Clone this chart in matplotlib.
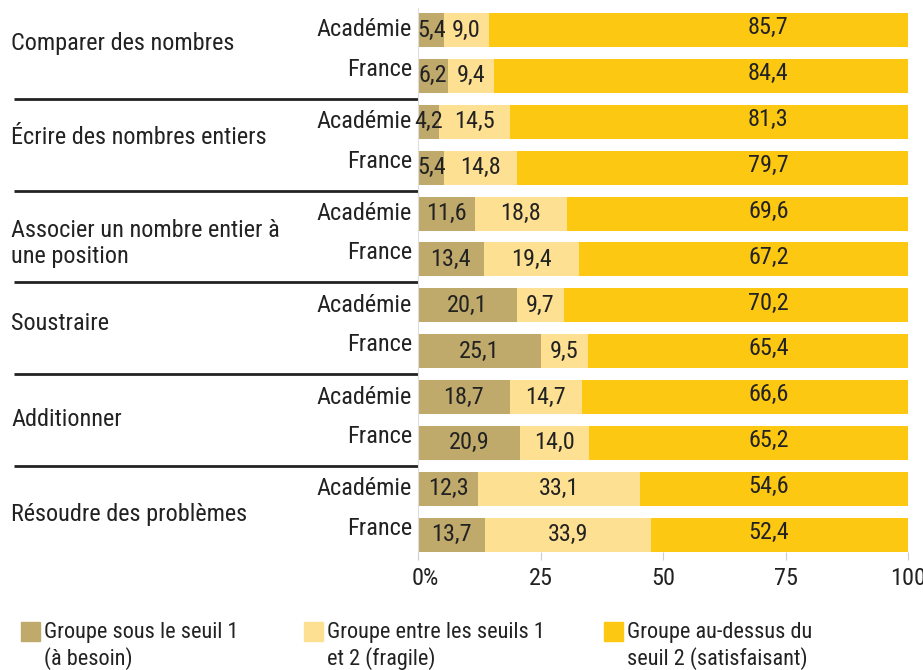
import numpy as np
import matplotlib
matplotlib.use("Agg")
import matplotlib.pyplot as plt
from matplotlib.patches import Rectangle
import matplotlib.transforms as mtransforms
from matplotlib import font_manager

# ---------------- data ----------------
skills = ["Comparer des nombres", "Écrire des nombres entiers",
          "Associer un nombre entier à\nune position", "Soustraire",
          "Additionner", "Résoudre des problèmes"]
rows = ["Académie", "France"]

besoin = [5.4, 6.2, 4.2, 5.4, 11.6, 13.4, 20.1, 25.1, 18.7, 20.9, 12.3, 13.7]
fragile = [9.0, 9.4, 14.5, 14.8, 18.8, 19.4, 9.7, 9.5, 14.7, 14.0, 33.1, 33.9]
satisf = [85.7, 84.4, 81.3, 79.7, 69.6, 67.2, 70.2, 65.4, 66.6, 65.2, 54.6, 52.4]

legend_labels = ["Groupe sous le seuil 1\n(à besoin)",
                 "Groupe entre les seuils 1\net 2 (fragile)",
                 "Groupe au-dessus du\nseuil 2 (satisfaisant)"]
colors = ["#bfaa6b", "#fee092", "#fcc812"]
txt = "#222222"

# condensed font if there is one, otherwise a smaller regular one
names = {f.name for f in font_manager.fontManager.ttflist}
narrow = [n for n in ["Liberation Sans Narrow", "Roboto Condensed", "Open Sans Condensed",
                      "DejaVu Sans Condensed"] if n in names]
if narrow:
    plt.rcParams['font.family'] = [narrow[0], 'DejaVu Sans']
    fs, lfs = 17.5, 16
else:
    plt.rcParams['font.family'] = ['Liberation Sans', 'DejaVu Sans']
    fs, lfs = 15.5, 14

fig = plt.figure(figsize=(9.23, 6.70), dpi=100)
ax = fig.add_axes([0.4529, 0.1766, 0.5309, 0.8115])

y = np.arange(len(besoin))
h = 0.74
b = np.array(besoin)
f = np.array(fragile)
s = np.array(satisf)
ax.barh(y, b, height=h, color=colors[0])
ax.barh(y, f, left=b, height=h, color=colors[1])
ax.barh(y, s, left=b + f, height=h, color=colors[2])

fmt = lambda v: ("%.1f" % v).replace(".", ",")
for i in range(len(y)):
    ax.text(b[i] / 2, y[i], fmt(b[i]), ha="center", va="center", fontsize=fs, color=txt)
    ax.text(b[i] + f[i] / 2, y[i], fmt(f[i]), ha="center", va="center", fontsize=fs, color=txt)
    ax.text(71.5, y[i] - 0.05, fmt(s[i]), ha="center", va="center", fontsize=fs, color=txt)

ax.set_xlim(0, 100)
ax.set_ylim(11.37, -0.48)
ax.set_yticks([])
ax.set_xticks([0, 25, 50, 75, 100])
ax.set_xticklabels(["0%", "25", "50", "75", "100"], fontsize=fs, color=txt)
ax.tick_params(axis="x", length=6, color="#cccccc", pad=5)
for sp in ["top", "right", "bottom"]:
    ax.spines[sp].set_visible(False)
ax.spines["left"].set_color("#dddddd")
lab0 = ax.get_xticklabels()[0]
lab0.set_ha("left")
lab0.set_transform(lab0.get_transform() + mtransforms.ScaledTranslation(-6 / 100, 0, fig.dpi_scale_trans))

# row labels and group labels
trans = mtransforms.blended_transform_factory(ax.transAxes, ax.transData)
for i in range(len(y)):
    off = 0.0 if i % 2 == 0 else -0.14
    ax.text(-0.012, y[i] + off, rows[i % 2], transform=trans, ha="right", va="center",
            fontsize=fs, color=txt, clip_on=False)
name_off = [-0.2, -0.15, 0.15, -0.1, 0.0, 0.05]
for g, name in enumerate(skills):
    ax.text(-0.83, 2 * g + 0.5 + name_off[g], name, transform=trans, ha="left", va="center",
            fontsize=fs, color=txt, linespacing=1.18, clip_on=False)
for g in range(len(skills) - 1):
    ax.plot([-0.825, 0], [2 * g + 1.5] * 2, transform=trans, color="#222222",
            lw=2, clip_on=False, solid_capstyle="butt")

# legend
lx = [21, 304, 604]
for k in range(3):
    fig.patches.append(Rectangle((lx[k] / 923, (670 - 641) / 670), 19 / 923, 19 / 670,
                                 transform=fig.transFigure, color=colors[k]))
    fig.text((lx[k] + 23) / 923, (670 - 646) / 670, legend_labels[k], ha="left", va="center",
             fontsize=lfs, color=txt, linespacing=1.2)

fig.savefig("out.png", dpi=100)
